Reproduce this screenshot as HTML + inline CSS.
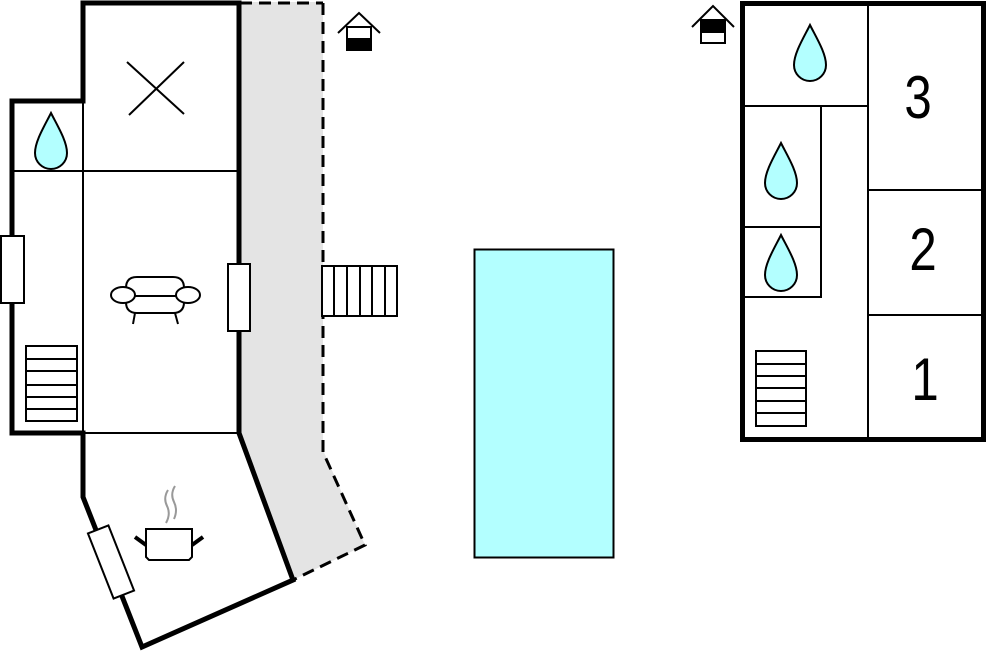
<!DOCTYPE html>
<html><head><meta charset="utf-8"><style>
html,body{margin:0;padding:0;background:#fff;}
svg{display:block;}
text{font-family:"Liberation Sans",sans-serif;}
</style></head><body>
<svg width="987" height="652" viewBox="0 0 987 652" xmlns="http://www.w3.org/2000/svg">
<defs>
<path id="drop" d="M0,0 C6,12 16,28 16,40 A16,16 0 0 1 -16,40 C-16,28 -6,12 0,0 Z" fill="#b3ffff" stroke="#000" stroke-width="2"/>
</defs>
<polygon points="239,2 323,2 323,450 365,545 293,580 239,433" fill="#e4e4e4"/>
<g stroke="#000" stroke-width="3" stroke-dasharray="12,7" fill="none">
<line x1="240" y1="3" x2="323" y2="3"/>
<polyline points="323,3 323,452 365,545 293,580"/>
</g>
<g stroke="#000" stroke-width="2" fill="none">
<line x1="83" y1="101" x2="83" y2="433"/>
<line x1="12" y1="171" x2="239" y2="171"/>
<line x1="83" y1="433" x2="239" y2="433"/>
</g>
<g stroke="#000" stroke-width="5" fill="none" stroke-linejoin="miter">
<polyline points="239,265 239,3 83,3 83,101 12,101 12,433 83,433 83,497 142,647 293,580 239,433 239,331"/>
</g>
<rect x="1" y="236" width="23" height="67" fill="#fff" stroke="#000" stroke-width="2"/>
<rect x="228" y="264" width="22" height="67" fill="#fff" stroke="#000" stroke-width="2"/>
<rect x="-11" y="-35" width="22" height="70" fill="#fff" stroke="#000" stroke-width="2" transform="translate(111,562) rotate(-21.5)"/>
<g stroke="#000" stroke-width="2"><line x1="127" y1="62" x2="184" y2="114"/><line x1="184" y1="62" x2="129" y2="115"/></g>
<use href="#drop" x="51" y="113"/>
<g stroke="#000" stroke-width="2" fill="#fff">
<path d="M126,296 L126,288 Q126,277 137,277 L173,277 Q184,277 184,288 L184,296 Z"/>
<path d="M126,297 L126,302 Q126,313 137,313 L173,313 Q184,313 184,302 L184,297"/>
<line x1="135" y1="313" x2="133" y2="324"/><line x1="175" y1="313" x2="178" y2="324"/>
<ellipse cx="123" cy="295" rx="12" ry="8"/><ellipse cx="188" cy="295" rx="12" ry="8"/>
</g>
<g stroke="#000" stroke-width="2" fill="none">
<rect x="26" y="346" width="51" height="75"/>
<line x1="26" y1="359" x2="77" y2="359"/><line x1="26" y1="371" x2="77" y2="371"/><line x1="26" y1="385" x2="77" y2="385"/><line x1="26" y1="397" x2="77" y2="397"/><line x1="26" y1="409" x2="77" y2="409"/>
</g>
<g stroke="#000" stroke-width="2" fill="#fff">
<path d="M146,529 L192,529 L192,557 L189,560 L149,560 L146,557 Z"/>
</g>
<g stroke="#000" stroke-width="4"><line x1="135" y1="537" x2="146" y2="545"/><line x1="192" y1="545" x2="203" y2="537"/></g>
<g stroke="#999" stroke-width="2" fill="none">
<path d="M168,490 Q163,498 167,506 Q171,514 166,523"/>
<path d="M175,486 Q170,494 174,502 Q178,510 174,519"/>
</g>
<g stroke="#000" stroke-width="2" fill="#fff">
<rect x="322" y="266" width="75" height="50"/>
<line x1="334" y1="266" x2="334" y2="316"/><line x1="347" y1="266" x2="347" y2="316"/><line x1="360" y1="266" x2="360" y2="316"/><line x1="372" y1="266" x2="372" y2="316"/><line x1="385" y1="266" x2="385" y2="316"/>
</g>
<g stroke="#000" stroke-width="2" fill="none">
<polyline points="338,33 359,13 380,33"/>
<rect x="347" y="27" width="24" height="12" fill="#fff"/>
<rect x="347" y="39" width="24" height="11" fill="#000"/>
</g>
<rect x="474.5" y="249.5" width="139" height="308" fill="#b3ffff" stroke="#000" stroke-width="2"/>
<g stroke="#000" stroke-width="2" fill="none">
<line x1="868" y1="3" x2="868" y2="440"/>
<line x1="868" y1="190" x2="985" y2="190"/>
<line x1="868" y1="315" x2="985" y2="315"/>
<line x1="742" y1="106" x2="868" y2="106"/>
<polyline points="742,106 821,106 821,297 742,297"/>
<line x1="742" y1="227" x2="821" y2="227"/>
<rect x="756" y="351" width="50" height="75"/>
<line x1="756" y1="364" x2="806" y2="364"/><line x1="756" y1="376" x2="806" y2="376"/><line x1="756" y1="388" x2="806" y2="388"/><line x1="756" y1="401" x2="806" y2="401"/><line x1="756" y1="413" x2="806" y2="413"/>
</g>
<rect x="742.5" y="3.5" width="241" height="436" fill="none" stroke="#000" stroke-width="5"/>
<use href="#drop" x="810" y="25"/>
<use href="#drop" x="781" y="143"/>
<use href="#drop" x="781" y="235"/>
<text font-size="60" text-anchor="middle" transform="translate(918,118) scale(0.82,1)">3</text>
<text font-size="60" text-anchor="middle" transform="translate(923,270) scale(0.82,1)">2</text>
<text font-size="60" text-anchor="middle" transform="translate(925,400) scale(0.82,1)">1</text>
<g stroke="#000" stroke-width="2" fill="none">
<polyline points="692,27 713,6 734,27"/>
<rect x="701" y="20" width="24" height="12" fill="#000"/>
<rect x="701" y="32" width="24" height="11" fill="#fff"/>
</g>
</svg>
</body></html>
